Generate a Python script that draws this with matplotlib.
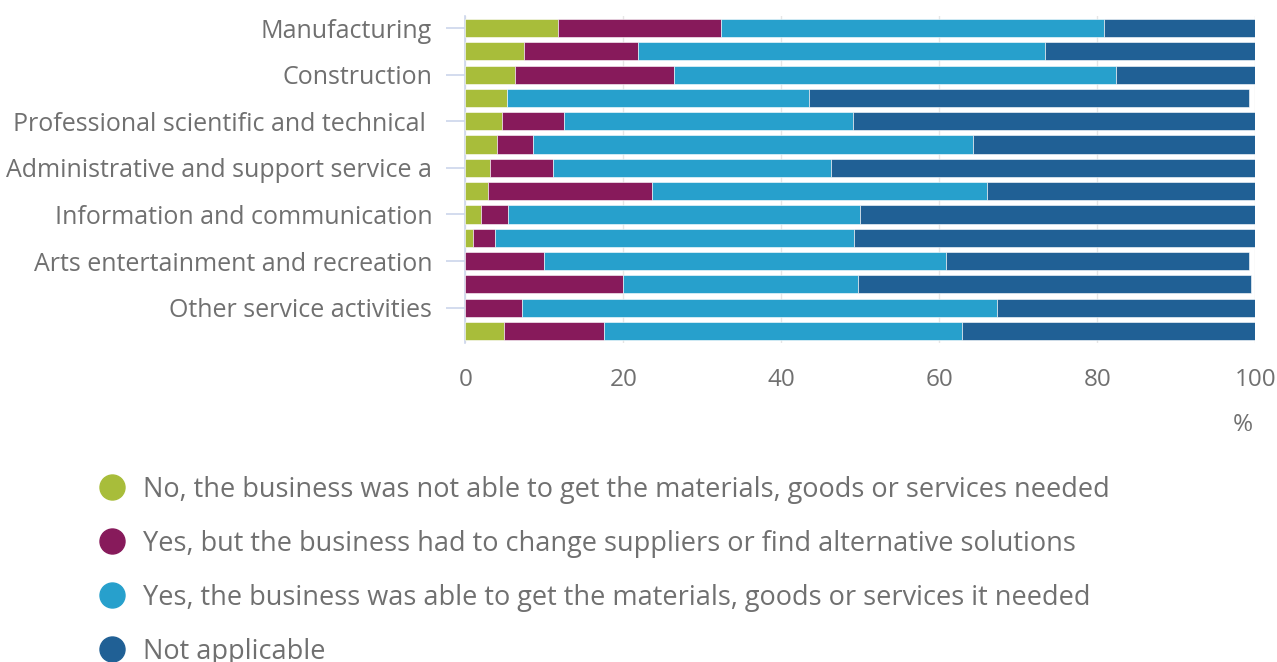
import numpy as np
import matplotlib.pyplot as plt
from matplotlib.lines import Line2D

plt.rcParams['font.family'] = ['Open Sans', 'DejaVu Sans']

# every other bar carries a label, the rest are blank as in the source
categories = ['Manufacturing', '', 'Construction', '',
              'Professional scientific and technical ', '',
              'Administrative and support service a', '',
              'Information and communication', '',
              'Arts entertainment and recreation', '',
              'Other service activities', '']

not_able = [11.7, 7.4, 6.3, 5.2, 4.6, 4.0, 3.1, 2.9, 2.0, 0.9, 0.0, 0.0, 0.0, 4.9]
changed = [20.7, 14.5, 20.1, 0.0, 7.9, 4.5, 8.0, 20.7, 3.4, 2.8, 10.0, 19.9, 7.2, 12.7]
able = [48.4, 51.4, 56.0, 38.3, 36.6, 55.7, 35.2, 42.4, 44.6, 45.5, 50.8, 29.8, 60.1, 45.2]
not_applicable = [19.3, 26.7, 17.6, 55.7, 50.9, 35.8, 53.7, 34.0, 50.0, 50.8, 38.4, 49.7, 32.7, 37.2]

series_names = ['No, the business was not able to get the materials, goods or services needed',
                'Yes, but the business had to change suppliers or find alternative solutions',
                'Yes, the business was able to get the materials, goods or services it needed',
                'Not applicable']
colors = ['#a8bd3a', '#871a5b', '#27a0cc', '#206095']

text_col = '#707070'

fig = plt.figure(figsize=(12.77, 6.62), dpi=100)
ax = fig.add_axes([0.3645, 0.4824, 0.6186, 0.4929])

y = np.arange(len(categories))
left = np.zeros(len(categories))
for vals, c in zip([not_able, changed, able, not_applicable], colors):
    vals = np.array(vals)
    ax.barh(y, vals, left=left, height=0.78, color=c, edgecolor='#ffffff', linewidth=0.4, zorder=3)
    left += vals

ax.set_ylim(len(categories) - 0.5, -0.5)
ax.set_xlim(0, 100)
ax.set_xticks([0, 20, 40, 60, 80, 100])
ax.grid(axis='x', color='#e6e6e6', linewidth=1, zorder=0)

ax.set_yticks(y[::2])
ax.set_yticklabels(categories[::2])
ax.tick_params(axis='y', length=14, width=1.2, color='#ccd6eb', pad=10,
               labelsize=18.0, labelcolor=text_col)
ax.tick_params(axis='x', length=0, pad=18, labelsize=17.5, labelcolor=text_col)

for s in ['top', 'right', 'bottom']:
    ax.spines[s].set_visible(False)
ax.spines['left'].set_color('#ccd6eb')
ax.spines['left'].set_linewidth(1.2)

fig.text(1243 / 1277, 1 - 425 / 662, '%', fontsize=17.5, color=text_col, ha='center', va='center')

handles = [Line2D([], [], marker='o', linestyle='none', markersize=18, color=c) for c in colors]
leg = fig.legend(handles, series_names, loc='upper left', bbox_to_anchor=(0.0657, 1 - 462 / 662),
                 frameon=False, fontsize=19.55, labelspacing=0.96, handletextpad=0.64,
                 handlelength=1.05, borderpad=0, labelcolor=text_col)

fig.savefig('out.png', dpi=100)
